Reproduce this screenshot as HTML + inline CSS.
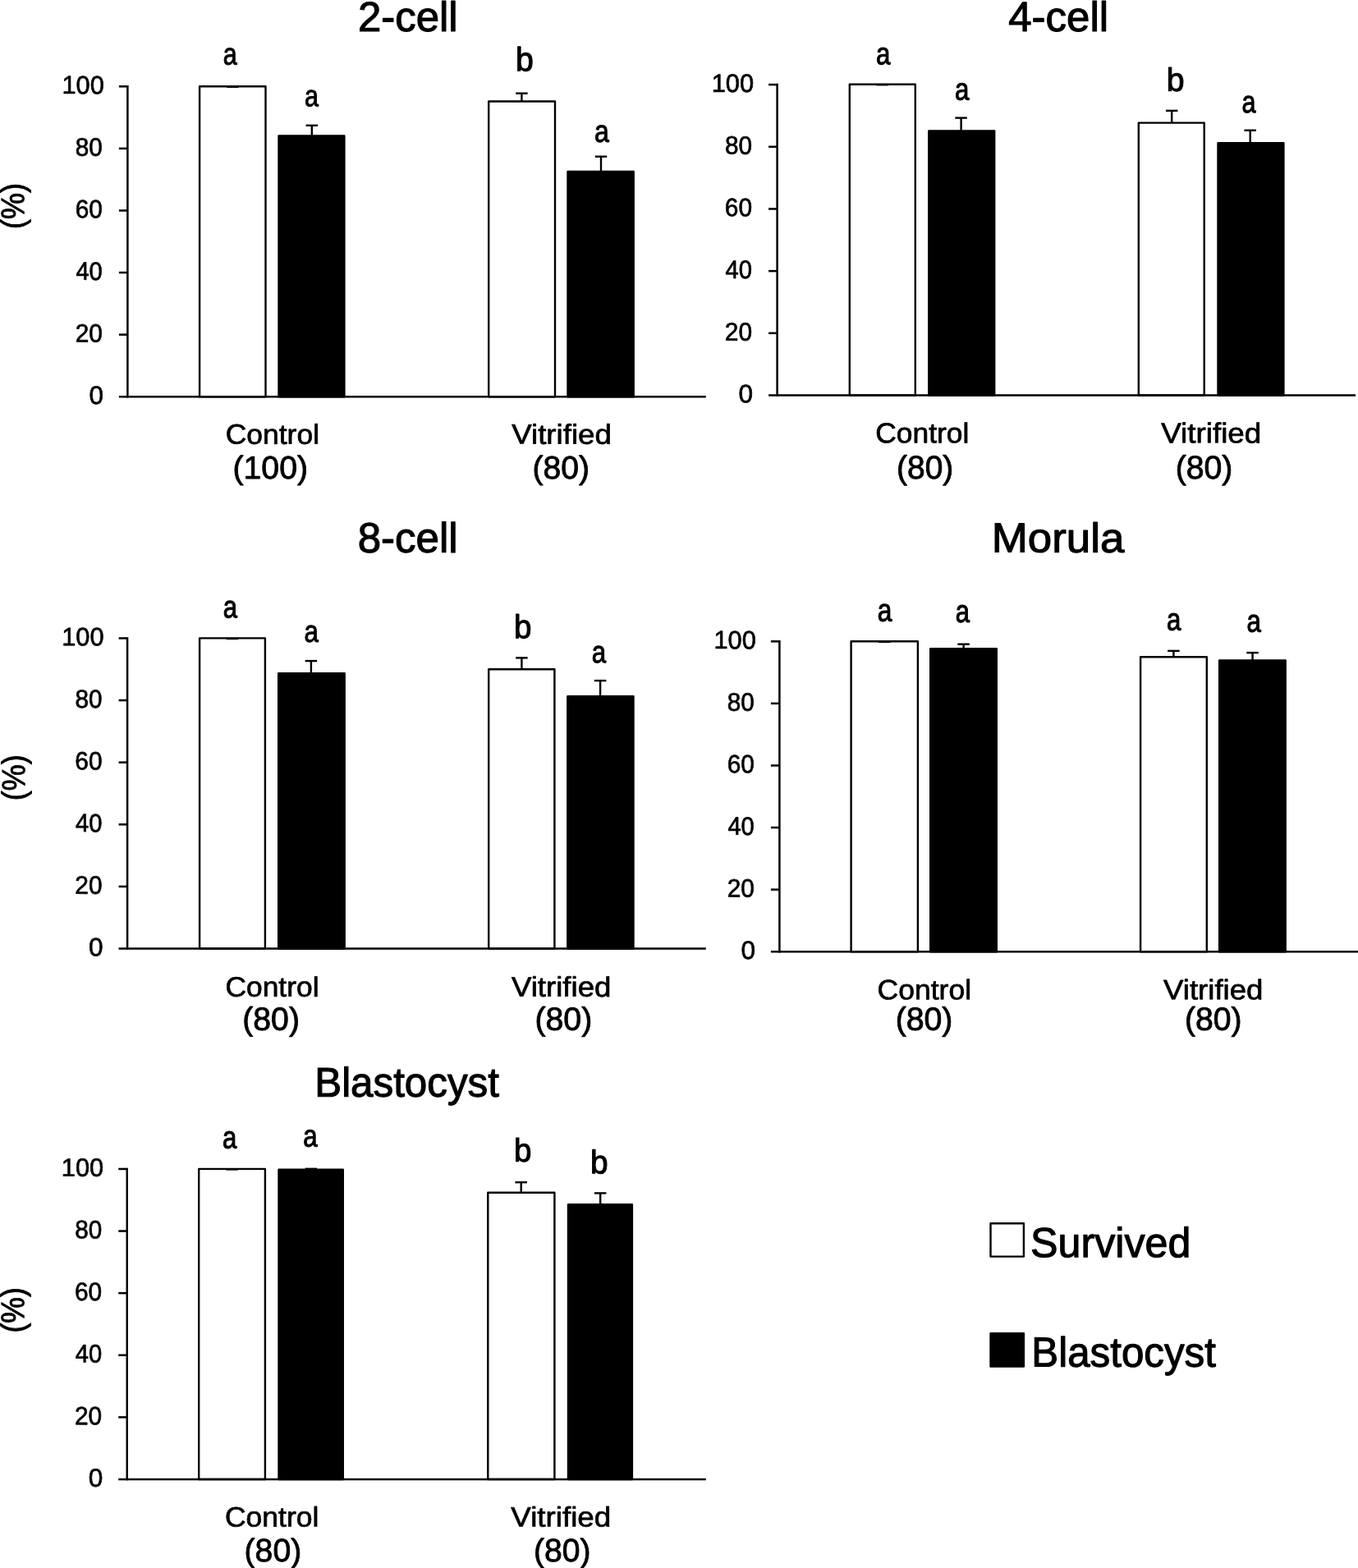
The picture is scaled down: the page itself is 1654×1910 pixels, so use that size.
<!DOCTYPE html>
<html lang="en">
<head>
<meta charset="utf-8">
<title>Survival and blastocyst development of control and vitrified embryos</title>
<style>
html,body{margin:0;padding:0;background:#fff;}
body{width:1654px;height:1910px;overflow:hidden;}
svg{display:block;}
svg text{font-family:"Liberation Sans",sans-serif;font-size:100px;fill:#000;stroke:#000;stroke-linejoin:round;}
svg line,svg rect{stroke:#000;stroke-linejoin:round;}
</style>
</head>
<body>
<svg width="1654" height="1910" viewBox="0 0 1654 1910">
<rect x="243.10" y="105.25" width="80.40" height="377.95" fill="#fff" stroke-width="2.4"/>
<line x1="276.05" y1="105.80" x2="290.55" y2="105.80" stroke-width="2.4"/>
<rect x="339.50" y="165.35" width="79.90" height="317.85" fill="#000" stroke-width="2.4"/>
<line x1="379.80" y1="152.80" x2="379.80" y2="165.15" stroke-width="2.4"/>
<line x1="372.55" y1="152.80" x2="387.05" y2="152.80" stroke-width="2.4"/>
<rect x="595.20" y="123.55" width="80.80" height="359.65" fill="#fff" stroke-width="2.4"/>
<line x1="635.40" y1="113.70" x2="635.40" y2="123.35" stroke-width="2.4"/>
<line x1="628.15" y1="113.70" x2="642.65" y2="113.70" stroke-width="2.4"/>
<rect x="691.50" y="209.05" width="80.20" height="274.15" fill="#000" stroke-width="2.4"/>
<line x1="732.00" y1="190.70" x2="732.00" y2="208.85" stroke-width="2.4"/>
<line x1="724.75" y1="190.70" x2="739.25" y2="190.70" stroke-width="2.4"/>
<line x1="155.40" y1="104.05" x2="155.40" y2="484.45" stroke-width="2.5"/>
<line x1="144.90" y1="483.20" x2="859.80" y2="483.20" stroke-width="2.5"/>
<line x1="144.90" y1="407.62" x2="155.40" y2="407.62" stroke-width="2.5"/>
<line x1="144.90" y1="332.04" x2="155.40" y2="332.04" stroke-width="2.5"/>
<line x1="144.90" y1="256.46" x2="155.40" y2="256.46" stroke-width="2.5"/>
<line x1="144.90" y1="180.88" x2="155.40" y2="180.88" stroke-width="2.5"/>
<line x1="144.90" y1="105.30" x2="155.40" y2="105.30" stroke-width="2.5"/>
<text transform="matrix(0.3162 0.0005 0 0.3101 108.38 492.03)" stroke-width="2.18">0</text>
<text transform="matrix(0.2987 0.0005 0 0.3101 91.65 416.44)" stroke-width="2.24">20</text>
<text transform="matrix(0.2916 0.0005 0 0.3101 92.41 340.86)" stroke-width="2.27">40</text>
<text transform="matrix(0.2987 0.0005 0 0.3101 91.65 265.28)" stroke-width="2.24">60</text>
<text transform="matrix(0.2973 0.0005 0 0.3101 91.80 189.70)" stroke-width="2.25">80</text>
<text transform="matrix(0.3082 0.0005 0 0.3101 75.43 114.11)" stroke-width="2.21">100</text>
<text transform="matrix(0.5096 0.0005 0 0.5114 435.91 37.88)" stroke-width="2.20">2-cell</text>
<text transform="matrix(0.3045 0.0005 0 0.3733 271.71 78.53)" stroke-width="2.88">a</text>
<text transform="matrix(0.3049 0.0005 0 0.3646 370.90 129.25)" stroke-width="2.84">a</text>
<text transform="matrix(0.3920 0.0005 0 0.4074 628.08 86.35)" stroke-width="2.65">b</text>
<text transform="matrix(0.3200 0.0005 0 0.3776 724.05 172.87)" stroke-width="2.82">a</text>
<text transform="matrix(0.3548 0.0005 0 0.3394 274.70 540.60)" stroke-width="2.15">Control</text>
<text transform="matrix(0.3925 0.0005 0 0.3920 283.48 582.91)" stroke-width="2.20">(100)</text>
<text transform="matrix(0.3669 0.0005 0 0.3394 623.19 540.60)" stroke-width="2.12">Vitrified</text>
<text transform="matrix(0.3912 0.0005 0 0.3920 648.58 582.92)" stroke-width="2.20">(80)</text>
<text transform="matrix(0.0005 -0.3604 0.3992 0 29.18 279.12)" stroke-width="2.32">(%)</text>
<rect x="1034.80" y="102.70" width="80.00" height="378.80" fill="#fff" stroke-width="2.4"/>
<line x1="1067.55" y1="103.25" x2="1082.05" y2="103.25" stroke-width="2.4"/>
<rect x="1131.30" y="159.50" width="79.90" height="322.00" fill="#000" stroke-width="2.4"/>
<line x1="1170.60" y1="143.60" x2="1170.60" y2="159.30" stroke-width="2.4"/>
<line x1="1163.35" y1="143.60" x2="1177.85" y2="143.60" stroke-width="2.4"/>
<rect x="1386.80" y="149.60" width="79.90" height="331.90" fill="#fff" stroke-width="2.4"/>
<line x1="1427.20" y1="134.85" x2="1427.20" y2="149.40" stroke-width="2.4"/>
<line x1="1419.95" y1="134.85" x2="1434.45" y2="134.85" stroke-width="2.4"/>
<rect x="1483.50" y="174.10" width="79.90" height="307.40" fill="#000" stroke-width="2.4"/>
<line x1="1522.70" y1="158.75" x2="1522.70" y2="173.90" stroke-width="2.4"/>
<line x1="1515.45" y1="158.75" x2="1529.95" y2="158.75" stroke-width="2.4"/>
<line x1="946.60" y1="101.85" x2="946.60" y2="482.75" stroke-width="2.5"/>
<line x1="936.10" y1="481.50" x2="1651.10" y2="481.50" stroke-width="2.5"/>
<line x1="936.10" y1="405.82" x2="946.60" y2="405.82" stroke-width="2.5"/>
<line x1="936.10" y1="330.14" x2="946.60" y2="330.14" stroke-width="2.5"/>
<line x1="936.10" y1="254.46" x2="946.60" y2="254.46" stroke-width="2.5"/>
<line x1="936.10" y1="178.78" x2="946.60" y2="178.78" stroke-width="2.5"/>
<line x1="936.10" y1="103.10" x2="946.60" y2="103.10" stroke-width="2.5"/>
<text transform="matrix(0.3162 0.0005 0 0.3101 899.58 490.33)" stroke-width="2.18">0</text>
<text transform="matrix(0.2987 0.0005 0 0.3101 882.85 414.64)" stroke-width="2.24">20</text>
<text transform="matrix(0.2916 0.0005 0 0.3101 883.61 338.96)" stroke-width="2.27">40</text>
<text transform="matrix(0.2987 0.0005 0 0.3101 882.85 263.28)" stroke-width="2.24">60</text>
<text transform="matrix(0.2973 0.0005 0 0.3101 883.00 187.60)" stroke-width="2.25">80</text>
<text transform="matrix(0.3082 0.0005 0 0.3101 866.63 111.91)" stroke-width="2.21">100</text>
<text transform="matrix(0.5103 0.0005 0 0.5114 1228.19 37.88)" stroke-width="2.20">4-cell</text>
<text transform="matrix(0.3121 0.0005 0 0.3776 1066.99 78.17)" stroke-width="2.86">a</text>
<text transform="matrix(0.3122 0.0005 0 0.3759 1162.98 121.47)" stroke-width="2.85">a</text>
<text transform="matrix(0.3926 0.0005 0 0.3982 1420.87 110.67)" stroke-width="2.62">b</text>
<text transform="matrix(0.3062 0.0005 0 0.3776 1512.41 136.97)" stroke-width="2.89">a</text>
<text transform="matrix(0.3538 0.0005 0 0.3434 1066.31 539.24)" stroke-width="2.17">Control</text>
<text transform="matrix(0.3893 0.0005 0 0.3989 1092.10 583.02)" stroke-width="2.23">(80)</text>
<text transform="matrix(0.3679 0.0005 0 0.3434 1414.24 539.24)" stroke-width="2.13">Vitrified</text>
<text transform="matrix(0.3920 0.0005 0 0.3989 1431.64 583.02)" stroke-width="2.22">(80)</text>
<rect x="243.10" y="777.40" width="79.80" height="378.10" fill="#fff" stroke-width="2.4"/>
<line x1="275.75" y1="777.95" x2="290.25" y2="777.95" stroke-width="2.4"/>
<rect x="339.20" y="820.10" width="80.50" height="335.40" fill="#000" stroke-width="2.4"/>
<line x1="378.90" y1="805.10" x2="378.90" y2="819.90" stroke-width="2.4"/>
<line x1="371.65" y1="805.10" x2="386.15" y2="805.10" stroke-width="2.4"/>
<rect x="595.20" y="815.30" width="80.20" height="340.20" fill="#fff" stroke-width="2.4"/>
<line x1="635.40" y1="801.35" x2="635.40" y2="815.10" stroke-width="2.4"/>
<line x1="628.15" y1="801.35" x2="642.65" y2="801.35" stroke-width="2.4"/>
<rect x="691.30" y="848.20" width="80.20" height="307.30" fill="#000" stroke-width="2.4"/>
<line x1="731.10" y1="829.10" x2="731.10" y2="848.00" stroke-width="2.4"/>
<line x1="723.85" y1="829.10" x2="738.35" y2="829.10" stroke-width="2.4"/>
<line x1="155.10" y1="776.20" x2="155.10" y2="1156.75" stroke-width="2.5"/>
<line x1="144.60" y1="1155.50" x2="859.80" y2="1155.50" stroke-width="2.5"/>
<line x1="144.60" y1="1079.89" x2="155.10" y2="1079.89" stroke-width="2.5"/>
<line x1="144.60" y1="1004.28" x2="155.10" y2="1004.28" stroke-width="2.5"/>
<line x1="144.60" y1="928.67" x2="155.10" y2="928.67" stroke-width="2.5"/>
<line x1="144.60" y1="853.06" x2="155.10" y2="853.06" stroke-width="2.5"/>
<line x1="144.60" y1="777.45" x2="155.10" y2="777.45" stroke-width="2.5"/>
<text transform="matrix(0.3162 0.0005 0 0.3101 108.08 1164.33)" stroke-width="2.18">0</text>
<text transform="matrix(0.2987 0.0005 0 0.3101 91.35 1088.71)" stroke-width="2.24">20</text>
<text transform="matrix(0.2916 0.0005 0 0.3101 92.11 1013.10)" stroke-width="2.27">40</text>
<text transform="matrix(0.2987 0.0005 0 0.3101 91.35 937.49)" stroke-width="2.24">60</text>
<text transform="matrix(0.2973 0.0005 0 0.3101 91.50 861.88)" stroke-width="2.25">80</text>
<text transform="matrix(0.3082 0.0005 0 0.3101 75.13 786.26)" stroke-width="2.21">100</text>
<text transform="matrix(0.5106 0.0005 0 0.5146 435.67 672.77)" stroke-width="2.21">8-cell</text>
<text transform="matrix(0.3100 0.0005 0 0.3802 271.70 752.31)" stroke-width="2.88">a</text>
<text transform="matrix(0.3123 0.0005 0 0.3733 370.48 781.73)" stroke-width="2.84">a</text>
<text transform="matrix(0.3856 0.0005 0 0.4034 625.92 777.26)" stroke-width="2.66">b</text>
<text transform="matrix(0.3123 0.0005 0 0.3750 720.78 807.02)" stroke-width="2.85">a</text>
<text transform="matrix(0.3538 0.0005 0 0.3400 274.51 1213.75)" stroke-width="2.16">Control</text>
<text transform="matrix(0.3917 0.0005 0 0.3947 295.28 1254.62)" stroke-width="2.21">(80)</text>
<text transform="matrix(0.3666 0.0005 0 0.3400 622.89 1213.74)" stroke-width="2.12">Vitrified</text>
<text transform="matrix(0.3932 0.0005 0 0.3947 651.42 1254.62)" stroke-width="2.20">(80)</text>
<text transform="matrix(0.0005 -0.3604 0.3981 0 30.20 975.32)" stroke-width="2.31">(%)</text>
<rect x="1036.60" y="781.30" width="81.30" height="377.90" fill="#fff" stroke-width="2.4"/>
<line x1="1070.00" y1="781.85" x2="1084.50" y2="781.85" stroke-width="2.4"/>
<rect x="1133.20" y="790.30" width="80.60" height="368.90" fill="#000" stroke-width="2.4"/>
<line x1="1173.60" y1="784.70" x2="1173.60" y2="790.10" stroke-width="2.4"/>
<line x1="1166.35" y1="784.70" x2="1180.85" y2="784.70" stroke-width="2.4"/>
<rect x="1389.10" y="800.30" width="80.70" height="358.90" fill="#fff" stroke-width="2.4"/>
<line x1="1429.40" y1="792.85" x2="1429.40" y2="800.10" stroke-width="2.4"/>
<line x1="1422.15" y1="792.85" x2="1436.65" y2="792.85" stroke-width="2.4"/>
<rect x="1485.10" y="804.40" width="80.60" height="354.80" fill="#000" stroke-width="2.4"/>
<line x1="1525.55" y1="795.10" x2="1525.55" y2="804.20" stroke-width="2.4"/>
<line x1="1518.30" y1="795.10" x2="1532.80" y2="795.10" stroke-width="2.4"/>
<line x1="949.40" y1="780.05" x2="949.40" y2="1160.45" stroke-width="2.5"/>
<line x1="938.90" y1="1159.20" x2="1656.00" y2="1159.20" stroke-width="2.5"/>
<line x1="938.90" y1="1083.62" x2="949.40" y2="1083.62" stroke-width="2.5"/>
<line x1="938.90" y1="1008.04" x2="949.40" y2="1008.04" stroke-width="2.5"/>
<line x1="938.90" y1="932.46" x2="949.40" y2="932.46" stroke-width="2.5"/>
<line x1="938.90" y1="856.88" x2="949.40" y2="856.88" stroke-width="2.5"/>
<line x1="938.90" y1="781.30" x2="949.40" y2="781.30" stroke-width="2.5"/>
<text transform="matrix(0.3162 0.0005 0 0.3101 902.38 1168.03)" stroke-width="2.18">0</text>
<text transform="matrix(0.2987 0.0005 0 0.3101 885.65 1092.44)" stroke-width="2.24">20</text>
<text transform="matrix(0.2916 0.0005 0 0.3101 886.41 1016.86)" stroke-width="2.27">40</text>
<text transform="matrix(0.2987 0.0005 0 0.3101 885.65 941.28)" stroke-width="2.24">60</text>
<text transform="matrix(0.2973 0.0005 0 0.3101 885.80 865.70)" stroke-width="2.25">80</text>
<text transform="matrix(0.3082 0.0005 0 0.3101 869.43 790.11)" stroke-width="2.21">100</text>
<text transform="matrix(0.5287 0.0005 0 0.5074 1207.73 672.56)" stroke-width="2.16">Morula</text>
<text transform="matrix(0.3175 0.0005 0 0.3872 1068.87 756.39)" stroke-width="2.87">a</text>
<text transform="matrix(0.3099 0.0005 0 0.3837 1163.70 757.70)" stroke-width="2.89">a</text>
<text transform="matrix(0.3120 0.0005 0 0.3802 1420.99 767.51)" stroke-width="2.87">a</text>
<text transform="matrix(0.3119 0.0005 0 0.3828 1518.59 769.55)" stroke-width="2.88">a</text>
<text transform="matrix(0.3554 0.0005 0 0.3400 1068.55 1217.15)" stroke-width="2.15">Control</text>
<text transform="matrix(0.3923 0.0005 0 0.3947 1090.68 1254.62)" stroke-width="2.21">(80)</text>
<text transform="matrix(0.3666 0.0005 0 0.3400 1416.99 1217.14)" stroke-width="2.12">Vitrified</text>
<text transform="matrix(0.3917 0.0005 0 0.3947 1442.98 1254.62)" stroke-width="2.21">(80)</text>
<rect x="242.20" y="1423.90" width="80.70" height="378.05" fill="#fff" stroke-width="2.4"/>
<line x1="275.30" y1="1424.45" x2="289.80" y2="1424.45" stroke-width="2.4"/>
<rect x="339.50" y="1424.80" width="78.30" height="377.15" fill="#000" stroke-width="2.4"/>
<line x1="371.65" y1="1423.80" x2="386.15" y2="1423.80" stroke-width="2.4"/>
<rect x="594.30" y="1452.80" width="81.10" height="349.15" fill="#fff" stroke-width="2.4"/>
<line x1="634.70" y1="1440.20" x2="634.70" y2="1452.60" stroke-width="2.4"/>
<line x1="627.45" y1="1440.20" x2="641.95" y2="1440.20" stroke-width="2.4"/>
<rect x="692.00" y="1467.20" width="77.90" height="334.75" fill="#000" stroke-width="2.4"/>
<line x1="731.20" y1="1453.40" x2="731.20" y2="1467.00" stroke-width="2.4"/>
<line x1="723.95" y1="1453.40" x2="738.45" y2="1453.40" stroke-width="2.4"/>
<line x1="154.75" y1="1422.70" x2="154.75" y2="1803.20" stroke-width="2.5"/>
<line x1="144.25" y1="1801.95" x2="859.80" y2="1801.95" stroke-width="2.5"/>
<line x1="144.25" y1="1726.35" x2="154.75" y2="1726.35" stroke-width="2.5"/>
<line x1="144.25" y1="1650.75" x2="154.75" y2="1650.75" stroke-width="2.5"/>
<line x1="144.25" y1="1575.15" x2="154.75" y2="1575.15" stroke-width="2.5"/>
<line x1="144.25" y1="1499.55" x2="154.75" y2="1499.55" stroke-width="2.5"/>
<line x1="144.25" y1="1423.95" x2="154.75" y2="1423.95" stroke-width="2.5"/>
<text transform="matrix(0.3162 0.0005 0 0.3101 107.73 1810.78)" stroke-width="2.18">0</text>
<text transform="matrix(0.2987 0.0005 0 0.3101 91.00 1735.17)" stroke-width="2.24">20</text>
<text transform="matrix(0.2916 0.0005 0 0.3101 91.76 1659.57)" stroke-width="2.27">40</text>
<text transform="matrix(0.2987 0.0005 0 0.3101 91.00 1583.97)" stroke-width="2.24">60</text>
<text transform="matrix(0.2973 0.0005 0 0.3101 91.15 1508.37)" stroke-width="2.25">80</text>
<text transform="matrix(0.3082 0.0005 0 0.3101 74.78 1432.76)" stroke-width="2.21">100</text>
<text transform="matrix(0.4932 0.0005 0 0.5047 383.26 1335.63)" stroke-width="2.23">Blastocyst</text>
<text transform="matrix(0.3120 0.0005 0 0.3802 270.99 1398.51)" stroke-width="2.87">a</text>
<text transform="matrix(0.3122 0.0005 0 0.3759 369.28 1396.42)" stroke-width="2.85">a</text>
<text transform="matrix(0.3859 0.0005 0 0.3982 625.91 1414.77)" stroke-width="2.64">b</text>
<text transform="matrix(0.3891 0.0005 0 0.3995 719.04 1429.17)" stroke-width="2.63">b</text>
<text transform="matrix(0.3548 0.0005 0 0.3400 274.00 1859.45)" stroke-width="2.15">Control</text>
<text transform="matrix(0.3920 0.0005 0 0.3947 297.53 1902.07)" stroke-width="2.21">(80)</text>
<text transform="matrix(0.3678 0.0005 0 0.3400 622.29 1859.44)" stroke-width="2.12">Vitrified</text>
<text transform="matrix(0.3911 0.0005 0 0.3947 649.99 1902.07)" stroke-width="2.21">(80)</text>
<text transform="matrix(0.0005 -0.3562 0.3992 0 29.18 1623.50)" stroke-width="2.33">(%)</text>
<rect x="1206.50" y="1490.30" width="40.40" height="40.30" fill="#fff" stroke-width="2.4"/>
<rect x="1206.50" y="1624.30" width="40.40" height="40.20" fill="#000" stroke-width="2.4"/>
<text transform="matrix(0.5023 0.0005 0 0.5100 1255.00 1531.14)" stroke-width="2.22">Survived</text>
<text transform="matrix(0.4929 0.0005 0 0.5100 1256.37 1664.62)" stroke-width="2.24">Blastocyst</text>
</svg>
</body>
</html>
